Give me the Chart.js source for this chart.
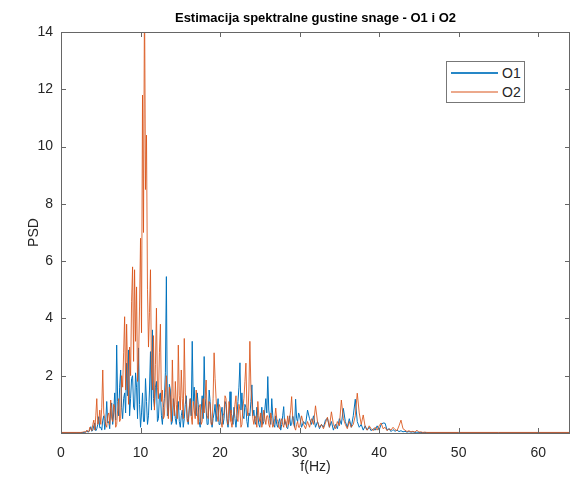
<!DOCTYPE html>
<html lang="en">
<head>
    <meta charset="UTF-8">
    <title>Estimacija spektralne gustine snage - O1 i O2</title>
    <script src="https://cdn.jsdelivr.net/npm/chart.js@4.4.0/dist/chart.umd.min.js"></script>
    <style>
        body {
            margin: 0;
            background: #fff;
            font-family: 'Liberation Sans', Arial, sans-serif;
        }
        .wrap {
            position: relative;
            width: 571px;
            height: 481px;
        }
        .title {
            position: absolute;
            left: 61px;
            width: 509px;
            top: 10px;
            line-height: 16px;
            text-align: center;
            font-size: 13px;
            font-weight: bold;
            color: #000;
        }
        .legend {
            position: absolute;
            left: 446px;
            top: 61px;
            width: 77px;
            height: 40px;
            border: 1px solid #777;
            background: #fff;
            font-size: 14px;
            color: #262626;
        }
        .legend-row {
            position: absolute;
            left: 4px;
            height: 16px;
            display: flex;
            align-items: center;
        }
        .legend-line {
            display: inline-block;
            width: 47px;
            height: 2px;
            margin-right: 4px;
        }
    </style>
</head>
<body>
    <div class="wrap">
        <canvas id="psdChart" width="571" height="481"></canvas>
        <div class="title">Estimacija spektralne gustine snage - O1 i O2</div>
        <div class="legend">
            <div class="legend-row" style="top: 3px;">
                <span class="legend-line" style="background: rgba(0, 114, 189, 0.85);"></span><span>O1</span>
            </div>
            <div class="legend-row" style="top: 22px;">
                <span class="legend-line" style="background: rgba(217, 83, 25, 0.5);"></span><span>O2</span>
            </div>
        </div>
    </div>

    <script>
        // frequency axis (Hz)
        const freq = [
            0, 1, 2, 2.5, 2.75,
            3, 3.125, 3.25, 3.375, 3.5, 3.625, 3.75, 3.875,
            4, 4.125, 4.25, 4.375, 4.5, 4.625, 4.75, 4.875,
            5, 5.125, 5.25, 5.375, 5.5, 5.625, 5.75, 5.875,
            6, 6.125, 6.25, 6.375, 6.5, 6.625, 6.75, 6.875,
            7, 7.125, 7.25, 7.375, 7.5, 7.625, 7.75, 7.875,
            8, 8.125, 8.25, 8.375, 8.5, 8.625, 8.75, 8.875,
            9, 9.125, 9.25, 9.375, 9.5, 9.625, 9.75, 9.875,
            10, 10.125, 10.25, 10.375, 10.5, 10.625, 10.75, 10.875,
            11, 11.125, 11.25, 11.375, 11.5, 11.625, 11.75, 11.875,
            12, 12.125, 12.25, 12.375, 12.5, 12.625, 12.75, 12.875,
            13, 13.125, 13.25, 13.375, 13.5, 13.625, 13.75, 13.875,
            14, 14.125, 14.25, 14.375, 14.5, 14.625, 14.75, 14.875,
            15, 15.125, 15.25, 15.375, 15.5, 15.625, 15.75, 15.875,
            16, 16.125, 16.25, 16.375, 16.5, 16.625, 16.75, 16.875,
            17, 17.125, 17.25, 17.375, 17.5, 17.625, 17.75, 17.875,
            18, 18.125, 18.25, 18.375, 18.5, 18.625, 18.75, 18.875,
            19, 19.125, 19.25, 19.375, 19.5, 19.625, 19.75, 19.875,
            20, 20.125, 20.25, 20.375, 20.5, 20.625, 20.75, 20.875,
            21, 21.125, 21.25, 21.375, 21.5, 21.625, 21.75, 21.875,
            22, 22.125, 22.25, 22.375, 22.5, 22.625, 22.75, 22.875,
            23, 23.125, 23.25, 23.375, 23.5, 23.625, 23.75, 23.875,
            24, 24.125, 24.25, 24.375, 24.5, 24.625, 24.75, 24.875,
            25, 25.125, 25.25, 25.375, 25.5, 25.625, 25.75, 25.875,
            26, 26.125, 26.25, 26.375, 26.5, 26.625, 26.75, 26.875,
            27, 27.125, 27.25, 27.375, 27.5, 27.625, 27.75, 27.875,
            28, 28.125, 28.25, 28.375, 28.5, 28.625, 28.75, 28.875,
            29, 29.125, 29.25, 29.375, 29.5, 29.625, 29.75, 29.875,
            30, 30.25, 30.5, 30.75, 31, 31.25, 31.5, 31.75,
            32, 32.25, 32.5, 32.75, 33, 33.25, 33.5, 33.75,
            34, 34.25, 34.5, 34.75, 35, 35.25, 35.5, 35.75,
            36, 36.25, 36.5, 36.75, 37, 37.25, 37.5, 37.75,
            38, 38.25, 38.5, 38.75, 39, 39.25, 39.5, 39.75,
            40, 40.25, 40.5, 40.75, 41, 41.25, 41.5, 41.75,
            42, 42.25, 42.5, 42.75, 43, 43.25, 43.5, 43.75,
            44, 44.25, 44.5, 44.75, 45, 45.25, 45.5, 45.75,
            46, 50, 55, 60, 64
        ];

        // PSD of channel O1
        const psdO1 = [
            0.01, 0.01, 0.01, 0.01, 0.02,
            0.02, 0.04, 0.08, 0.03, 0.05, 0.12, 0.22, 0.06,
            0.10, 0.25, 0.35, 0.08, 0.15, 0.30, 0.57, 0.18,
            0.20, 0.10, 0.45, 0.60, 0.12, 0.40, 1.10, 0.35,
            0.40, 0.15, 0.85, 1.05, 0.30, 0.70, 1.40, 0.45,
            3.07, 1.10, 0.60, 1.60, 2.20, 0.90, 0.50, 1.20,
            1.40, 0.70, 2.44, 1.30, 2.90, 0.60, 1.20, 1.90,
            2.00, 0.90, 0.80, 2.10, 1.60, 0.50, 2.97, 1.00,
            0.20, 0.70, 1.40, 0.40, 0.40, 1.90, 1.10, 0.30,
            0.60, 1.50, 2.84, 0.80, 3.60, 1.20, 0.90, 1.60,
            1.80, 0.40, 0.50, 1.30, 1.40, 0.60, 0.30, 0.90,
            1.20, 2.10, 5.46, 0.60, 0.70, 1.70, 1.50, 0.30,
            0.40, 1.20, 0.90, 0.50, 0.30, 0.90, 1.10, 0.40,
            0.20, 0.60, 0.80, 0.20, 0.50, 1.00, 1.30, 0.50,
            0.30, 0.80, 1.20, 0.60, 3.20, 1.10, 1.60, 0.70,
            0.60, 1.40, 1.00, 0.40, 0.20, 0.80, 1.30, 0.50,
            2.67, 1.20, 0.80, 0.30, 0.30, 1.50, 1.10, 0.40,
            0.20, 0.50, 0.70, 1.00, 0.40, 0.80, 1.20, 0.30,
            0.30, 0.70, 0.90, 0.30, 0.50, 1.10, 1.00, 0.40,
            0.20, 0.50, 1.44, 0.70, 0.60, 0.30, 0.90, 0.50,
            0.20, 0.60, 1.10, 1.60, 2.45, 0.80, 1.40, 0.60,
            0.50, 1.00, 0.90, 0.40, 0.20, 0.70, 0.60, 1.10,
            1.68, 0.60, 0.80, 0.40, 0.30, 0.90, 0.60, 0.30,
            0.20, 0.50, 0.90, 0.30, 0.40, 0.80, 1.20, 0.70,
            1.97, 0.80, 0.50, 0.30, 1.20, 0.60, 0.30, 0.20,
            0.60, 0.30, 0.20, 0.40, 0.50, 0.10, 0.30, 0.60,
            0.92, 0.30, 0.40, 0.20, 0.15, 0.35, 0.60, 0.25,
            0.30, 0.60, 0.50, 0.20, 1.18, 0.50, 0.40, 0.70,
            0.60, 0.20, 0.40, 0.30, 0.80, 0.50, 0.30, 0.60,
            0.20, 0.40, 0.15, 0.30, 0.20, 0.45, 0.52, 0.20,
            0.40, 0.10, 0.30, 0.15, 0.50, 0.30, 0.86, 0.40,
            0.20, 0.50, 0.20, 0.60, 1.18, 0.40, 0.20, 0.30,
            0.10, 0.25, 0.10, 0.20, 0.08, 0.15, 0.10, 0.25,
            0.10, 0.30, 0.35, 0.34, 0.10, 0.15, 0.05, 0.12,
            0.06, 0.10, 0.05, 0.08, 0.04, 0.06, 0.03, 0.05,
            0.03, 0.04, 0.02, 0.03, 0.02, 0.02, 0.01, 0.02,
            0.01, 0.01, 0.01, 0.01, 0.01
        ];

        // PSD of channel O2
        const psdO2 = [
            0.02, 0.02, 0.02, 0.02, 0.03,
            0.05, 0.02, 0.10, 0.06, 0.04, 0.20, 0.15, 0.08,
            0.30, 0.45, 0.10, 0.60, 1.20, 0.30, 0.40, 0.80,
            0.30, 0.90, 2.20, 0.70, 0.50, 0.30, 0.20, 0.60,
            0.70, 0.30, 1.15, 0.50, 0.40, 1.00, 0.90, 0.20,
            0.30, 0.80, 1.20, 0.40, 0.50, 2.00, 1.60, 2.80,
            4.06, 1.50, 3.80, 2.20, 1.00, 3.00, 2.00, 4.60,
            5.80, 2.50, 5.70, 3.20, 5.10, 1.80, 2.50, 4.40,
            6.80, 3.50, 11.80, 7.00, 15.50, 8.50, 10.40, 5.00,
            3.00, 4.20, 5.70, 2.20, 1.50, 3.40, 0.80, 2.40,
            4.36, 1.60, 1.20, 2.80, 3.80, 1.10, 1.50, 0.50,
            0.60, 1.40, 2.00, 0.90, 0.50, 1.60, 1.20, 0.40,
            2.55, 1.10, 0.60, 1.80, 1.00, 0.50, 3.07, 1.30,
            0.80, 2.20, 1.20, 0.50, 3.30, 1.40, 1.00, 0.40,
            0.40, 0.90, 1.20, 0.60, 0.30, 1.10, 0.80, 0.50,
            1.50, 0.70, 0.30, 0.90, 1.00, 0.30, 0.40, 1.20,
            0.70, 1.30, 1.85, 0.60, 0.50, 1.10, 1.00, 0.30,
            0.30, 1.20, 2.80, 1.90, 1.20, 0.60, 0.40, 1.00,
            0.90, 0.40, 0.20, 0.60, 0.70, 1.30, 1.20, 0.50,
            0.30, 1.10, 0.80, 0.40, 0.20, 0.50, 0.60, 1.00,
            1.30, 0.50, 0.40, 1.00, 0.80, 0.20, 0.30, 0.90,
            1.20, 1.80, 2.44, 0.90, 0.60, 1.50, 3.20, 1.60,
            1.00, 0.50, 0.30, 0.60, 0.50, 0.20, 1.10, 0.60,
            0.40, 0.70, 0.20, 0.40, 0.80, 0.50, 0.30, 0.60,
            0.60, 0.30, 0.20, 0.70, 0.50, 0.20, 0.30, 0.50,
            0.87, 0.50, 0.40, 0.20, 0.15, 0.40, 0.50, 0.30,
            0.20, 0.50, 0.40, 0.20, 0.60, 0.30, 0.50, 0.80,
            1.27, 0.60, 0.30, 0.20, 0.10, 0.30, 0.40, 0.20,
            0.20, 0.60, 0.30, 0.15, 0.40, 0.20, 0.50, 0.30,
            0.95, 0.40, 0.20, 0.30, 0.15, 0.35, 0.55, 0.20,
            0.74, 0.30, 0.15, 0.40, 0.25, 1.15, 0.50, 0.30,
            0.15, 0.40, 0.20, 0.30, 0.60, 1.39, 0.70, 0.30,
            0.63, 0.20, 0.10, 0.25, 0.15, 0.08, 0.20, 0.10,
            0.25, 0.35, 0.15, 0.20, 0.08, 0.15, 0.10, 0.20,
            0.12, 0.08, 0.25, 0.45, 0.15, 0.10, 0.05, 0.08,
            0.04, 0.06, 0.03, 0.10, 0.03, 0.04, 0.02, 0.03,
            0.02, 0.02, 0.02, 0.02, 0.02
        ];

        const xTicks = [0, 10, 20, 30, 40, 50, 60];
        const yTicks = [2, 4, 6, 8, 10, 12, 14];

        const axisColor = '#666';
        const textColor = '#262626';

        // MATLAB-like box with inward tick marks on all four sides
        const boxPlugin = {
            id: 'boxPlugin',
            afterDatasetsDraw(chart) {
                const { ctx, chartArea: a, scales } = chart;
                const len = 5;
                ctx.save();
                ctx.strokeStyle = axisColor;
                ctx.lineWidth = 1;
                ctx.beginPath();
                xTicks.forEach(v => {
                    const x = Math.round(scales.x.getPixelForValue(v)) + 0.5;
                    ctx.moveTo(x, a.bottom);
                    ctx.lineTo(x, a.bottom - len);
                    ctx.moveTo(x, a.top);
                    ctx.lineTo(x, a.top + len);
                });
                yTicks.forEach(v => {
                    const y = Math.round(scales.y.getPixelForValue(v)) + 0.5;
                    ctx.moveTo(a.left, y);
                    ctx.lineTo(a.left + len, y);
                    ctx.moveTo(a.right, y);
                    ctx.lineTo(a.right - len, y);
                });
                ctx.stroke();
                ctx.strokeRect(Math.round(a.left) + 0.5, Math.round(a.top) + 0.5,
                    Math.round(a.right - a.left) - 1, Math.round(a.bottom - a.top));
                ctx.restore();
            }
        };

        const toPoints = vals => freq.map((f, i) => ({ x: f, y: vals[i] }));

        new Chart(document.getElementById('psdChart'), {
            type: 'line',
            data: {
                datasets: [
                    {
                        label: 'O1',
                        data: toPoints(psdO1),
                        borderColor: 'rgb(0, 114, 189)',
                        borderWidth: 1,
                        pointRadius: 0,
                        tension: 0,
                        order: 2
                    },
                    {
                        label: 'O2',
                        data: toPoints(psdO2),
                        borderColor: 'rgba(217, 83, 25, 0.85)',
                        borderWidth: 1,
                        pointRadius: 0,
                        tension: 0,
                        order: 1
                    }
                ]
            },
            options: {
                responsive: false,
                animation: false,
                layout: { padding: { left: 0, right: 1, top: 32, bottom: 0 } },
                plugins: {
                    legend: { display: false },
                    tooltip: { enabled: false },
                    title: { display: false }
                },
                scales: {
                    x: {
                        type: 'linear',
                        min: 0,
                        max: 64,
                        afterBuildTicks: s => { s.ticks = xTicks.map(v => ({ value: v })); },
                        afterFit: s => { s.height = 48; },
                        grid: { display: false, drawTicks: false },
                        border: { display: false },
                        ticks: {
                            color: textColor,
                            padding: 12,
                            maxRotation: 0,
                            font: { family: 'Liberation Sans', size: 14 }
                        },
                        title: {
                            display: true,
                            text: 'f(Hz)',
                            color: textColor,
                            font: { family: 'Liberation Sans', size: 14 },
                            padding: { top: 0, bottom: 5 }
                        }
                    },
                    y: {
                        min: 0,
                        max: 14,
                        afterBuildTicks: s => { s.ticks = yTicks.map(v => ({ value: v })); },
                        afterFit: s => { s.width = 61; },
                        grid: { display: false, drawTicks: false },
                        border: { display: false },
                        ticks: {
                            color: textColor,
                            padding: 8,
                            font: { family: 'Liberation Sans', size: 14 }
                        },
                        title: {
                            display: true,
                            text: 'PSD',
                            color: textColor,
                            font: { family: 'Liberation Sans', size: 14 },
                            padding: { top: 26, bottom: 0 }
                        }
                    }
                }
            },
            plugins: [boxPlugin]
        });
    </script>
</body>
</html>
